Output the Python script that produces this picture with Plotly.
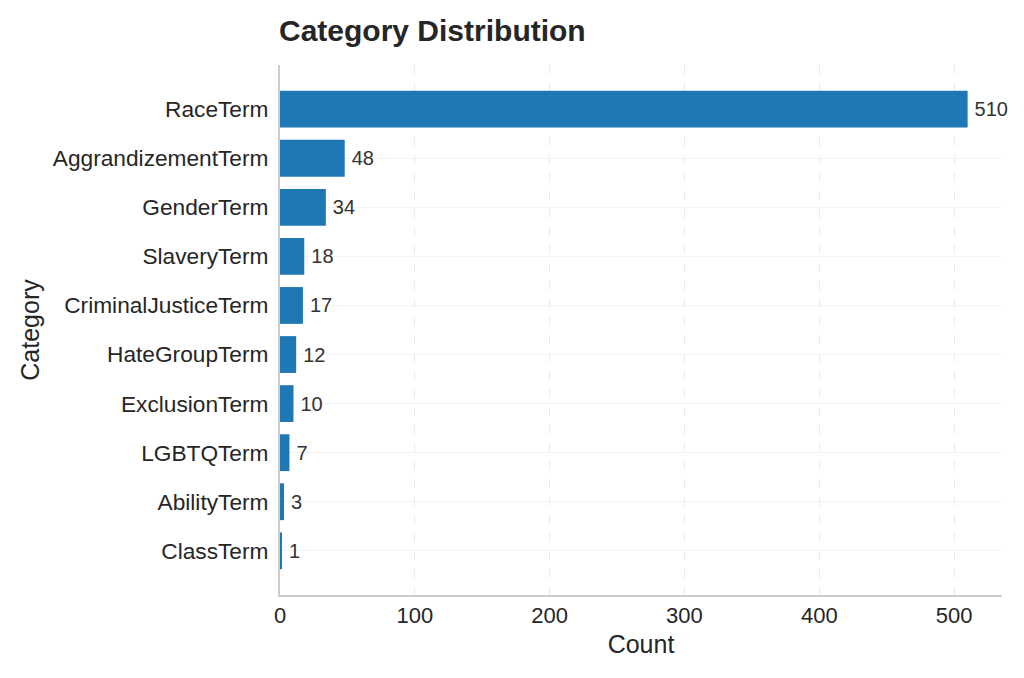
import plotly.graph_objects as go

categories = ["RaceTerm", "AggrandizementTerm", "GenderTerm", "SlaveryTerm",
              "CriminalJusticeTerm", "HateGroupTerm", "ExclusionTerm",
              "LGBTQTerm", "AbilityTerm", "ClassTerm"]
counts = [510, 48, 34, 18, 17, 12, 10, 7, 3, 1]
x_ticks = [0, 100, 200, 300, 400, 500]

font = "Liberation Sans, Arial, sans-serif"

fig = go.Figure(go.Bar(
    x=counts,
    y=categories,
    orientation="h",
    width=0.75,
    marker=dict(color="#1f77b4", line=dict(width=0)),
    text=["\u2009" + str(c) for c in counts],
    textposition="outside",
    textfont=dict(size=20, color="#333333"),
    cliponaxis=False,
))

fig.update_layout(
    width=1024,
    height=678,
    plot_bgcolor="white",
    paper_bgcolor="white",
    font=dict(family=font, color="#262626"),
    title=dict(text="<b>Category Distribution</b>", x=271 / 1024, xanchor="left",
               y=1 - 22 / 678, yanchor="middle", font=dict(size=30, color="#262626")),
    margin=dict(l=272, r=30, t=57, b=91),
    showlegend=False,
)

fig.update_xaxes(
    range=[0, 535.5],
    tickvals=x_ticks,
    tickfont=dict(size=22),
    title=dict(text="Count", font=dict(size=25), standoff=8),
    showline=True, linecolor="#cccccc", linewidth=2,
    showgrid=True, gridcolor="#ebebeb", griddash="dash", gridwidth=1,
    zeroline=False, ticks="",
)

fig.update_yaxes(
    categoryorder="array",
    categoryarray=categories,
    autorange=False,
    range=[9.9, -0.9],
    tickfont=dict(size=22.7),
    title=dict(text="Category", font=dict(size=25), standoff=6),
    showline=True, linecolor="#cccccc", linewidth=2,
    showgrid=True, gridcolor="#f3f3f3", gridwidth=1,
    zeroline=False, ticks="", ticklabelstandoff=5,
)

fig.write_html("out.html")
